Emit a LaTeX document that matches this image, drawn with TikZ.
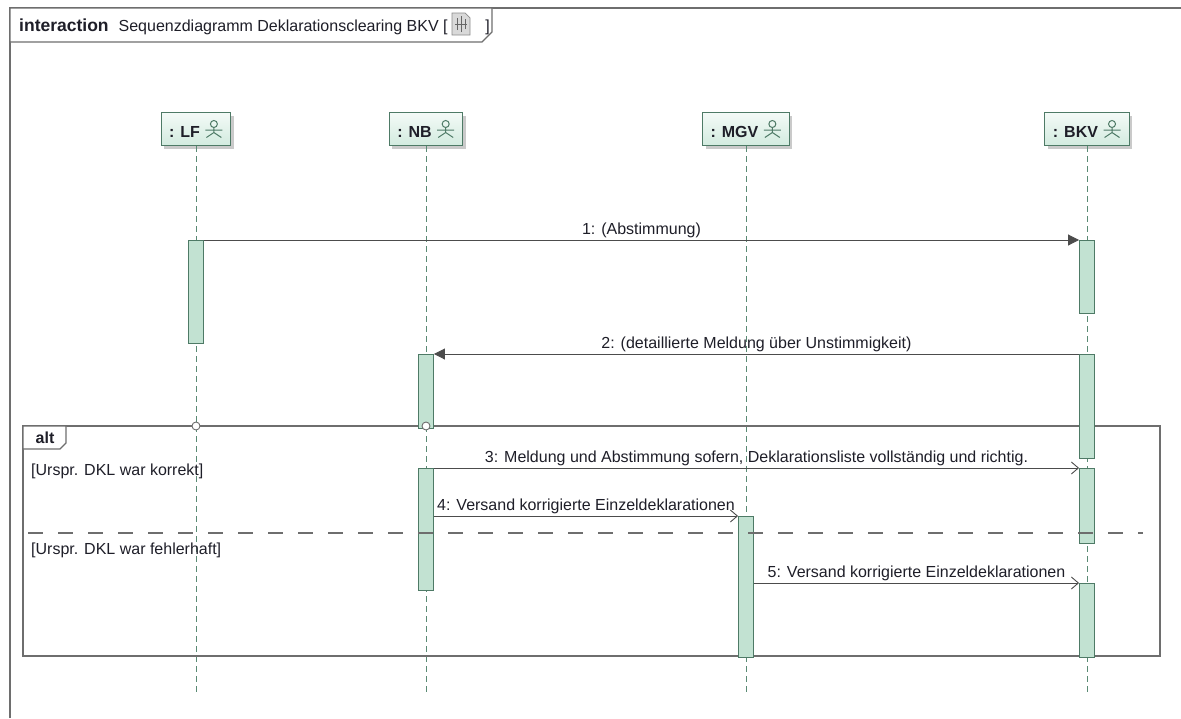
\documentclass[tikz,border=0pt]{standalone}
\usepackage{fontspec}
\setmainfont{Liberation Sans}
\usetikzlibrary{arrows.meta,shadows}
\definecolor{lline}{HTML}{5A8A74}
\definecolor{actfill}{HTML}{C2E2D2}
\definecolor{actdraw}{HTML}{4E7A66}
\definecolor{headtop}{HTML}{F4FAF7}
\definecolor{headbot}{HTML}{D2EBDF}
\definecolor{frm}{HTML}{6E6E6E}
\definecolor{txt}{HTML}{1E1E28}
\tikzset{
  x=1pt, y=-1pt,
  every node/.style={text=txt, font=\fontsize{16}{18}\selectfont},
  head/.style={draw=actdraw, line width=1pt, top color=headtop, bottom color=headbot,
     minimum height=33pt, inner xsep=8pt, inner ysep=2pt, font=\bfseries\fontsize{16}{18}\selectfont,
     drop shadow={shadow xshift=3pt, shadow yshift=-3pt, fill=black!35, opacity=.6}},
  life/.style={draw=lline, line width=0.9pt, dash pattern=on 6pt off 4pt},
  act/.style={draw=actdraw, fill=actfill, line width=0.9pt, minimum width=15pt, inner sep=0pt, anchor=north},
  msg/.style={draw=black!70, line width=0.9pt},
  synch/.style={msg, -{Triangle[length=11pt,width=11pt]}},
  asynch/.style={msg, -{Straight Barb[length=7pt,width=12pt,line width=0.9pt]}},
  mlabel/.style={anchor=south, inner sep=2pt},
  frame/.style={draw=frm, line width=1.1pt},
  gate/.style={circle, draw=frm, fill=white, line width=0.9pt, minimum size=8pt, inner sep=0pt},
}
\newcommand{\actor}{%
  \tikz[baseline=0pt, line width=1pt]{%
    \draw[actdraw] (0pt,13.5pt) circle (3.5pt);
    \draw[actdraw] (0pt,10pt) -- (0pt,5pt) (-8.5pt,7.5pt) -- (8.5pt,7.5pt) (-7.5pt,0pt) -- (0pt,5pt) -- (7.5pt,0pt);}}
\newcommand{\diagicon}{%
  \tikz[baseline=4pt]{\draw[black!45, fill=black!15, line width=0.7pt] (0pt,0pt) -- (0pt,22pt) -- (13pt,22pt) -- (18pt,17pt) -- (18pt,0pt) -- cycle;
    \draw[black!60, line width=0.9pt] (5pt,5pt)--(5pt,17pt) (9pt,3pt)--(9pt,19pt) (13pt,6pt)--(13pt,16pt) (3pt,11pt)--(15pt,11pt);}}
\begin{document}
\begin{tikzpicture}
\useasboundingbox (0,0) rectangle (1181,718);
% outer frame
\draw[frame] (10,718) -- (10,8) -- (1181,8);
\draw[frame, fill=white] (10,8) -- (492,8) -- (492,32) -- (482,42) -- (10,42) -- cycle;
\node[anchor=west, inner sep=0pt] (title) at (19,24) {{\bfseries\fontsize{17.5}{18}\selectfont interaction}\hspace{10pt}Sequenzdiagramm Deklarationsclearing BKV [\hspace{4pt}\diagicon\hspace{15pt}]};

% lifeline heads
\node[head] (LF)  at (196,129) {: LF\hspace{5pt}\actor};
\node[head] (NB)  at (426,129) {: NB\hspace{5pt}\actor};
\node[head] (MGV) at (746,129) {: MGV\hspace{5pt}\actor};
\node[head] (BKV) at (1087,129) {: BKV\hspace{5pt}\actor};

% lifelines
\coordinate (LFend) at (196,695);
\coordinate (NBend) at (426,695);
\coordinate (MGVend) at (746,695);
\coordinate (BKVend) at (1087,695);
\draw[life] (LF.south) -- (LFend);
\draw[life] (NB.south) -- (NBend);
\draw[life] (MGV.south) -- (MGVend);
\draw[life] (BKV.south) -- (BKVend);

% alt fragment
\draw[frame] (23,426) rectangle (1160,656);
\draw[frame, fill=white] (23,426) -- (66,426) -- (66,443) -- (60,449) -- (23,449) -- cycle;
\node[font=\bfseries\fontsize{16}{18}\selectfont, inner sep=0pt] (alt) at (45,438) {alt};
\node[anchor=west, inner sep=0pt] (g1) at (31,471) {[Urspr. DKL war korrekt]};
\node[anchor=west, inner sep=0pt] (g2) at (31,550) {[Urspr. DKL war fehlerhaft]};

% activations
\node[act, minimum height=103pt] (aLF) at (196,240) {};
\node[act, minimum height=73pt] (aBKV1) at (1087,240) {};
\node[act, minimum height=104pt] (aBKV2) at (1087,354) {};
\node[act, minimum height=74pt] (aNB1) at (426,354) {};
\node[act, minimum height=122pt] (aNB2) at (426,468) {};
\node[act, minimum height=75pt] (aBKV3) at (1087,468) {};
\node[act, minimum height=141pt] (aMGV) at (746,516) {};
\node[act, minimum height=74pt] (aBKV4) at (1087,583) {};

% operand separator
\draw[frm, line width=1.1pt, dash pattern=on 15pt off 15pt] (28,533) -- (1143,533);

% gates on alt top edge
\node[gate] (c1) at (196,426) {};
\node[gate] (c2) at (426,426) {};

% messages
\draw[synch] (aLF.north east) -- node[mlabel] (m1) {1: (Abstimmung)} (aBKV1.north west);
\draw[synch] (aBKV2.north west) -- node[mlabel] (m2) {2: (detaillierte Meldung über Unstimmigkeit)} (aNB1.north east);
\draw[asynch] (aNB2.north east) -- node[mlabel] (m3) {3: Meldung und Abstimmung sofern, Deklarationsliste vollständig und richtig.} (aBKV3.north west);
\draw[asynch] (aNB2.east |- aMGV.north) -- node[mlabel] (m4) {4: Versand korrigierte Einzeldeklarationen} (aMGV.north west);
\draw[asynch] (aMGV.east |- aBKV4.north) -- node[mlabel] (m5) {5: Versand korrigierte Einzeldeklarationen} (aBKV4.north west);
\end{tikzpicture}
\end{document}
